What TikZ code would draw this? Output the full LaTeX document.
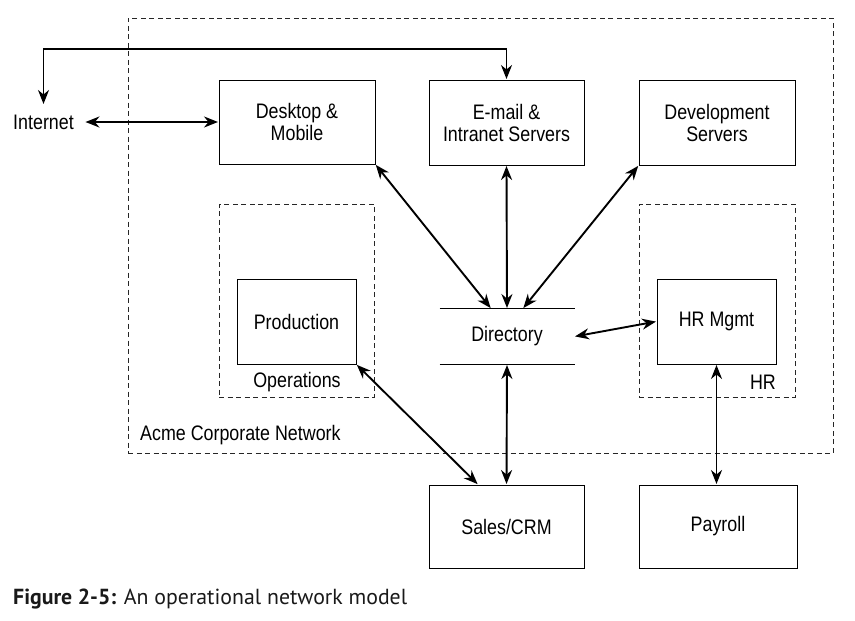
\documentclass[tikz,border=0pt]{standalone}
\usepackage{fontspec}
\setmainfont{Liberation Sans}[FakeStretch=0.85]
\newfontfamily\capfont{PT Sans}
\usetikzlibrary{arrows.meta}
\tikzset{
  box/.style={draw, line width=1pt, align=center, inner sep=0pt,
    font=\fontsize{21}{22}\selectfont},
  grp/.style={draw, dash pattern=on 5pt off 3.5pt, line width=1pt, draw=black!85, inner sep=0pt},
  lbl/.style={font=\fontsize{21}{22}\selectfont, inner sep=0pt},
  arr/.style={{Stealth[length=14pt,width=11pt]}-{Stealth[length=14pt,width=11pt]}, line width=1.9pt, shorten <=0.5pt, shorten >=0.5pt},
}
\begin{document}
\begin{tikzpicture}[x=1pt,y=-1pt]
\useasboundingbox (0,0) rectangle (855,621);
% groups
\node[grp, minimum width=705pt, minimum height=435pt] (net) at (480.5,235.5) {};
\node[grp, minimum width=155pt, minimum height=193pt] (ops) at (296.5,300.5) {};
\node[grp, minimum width=156pt, minimum height=193pt] (hrg) at (717,300.5) {};
\node[lbl, anchor=west] (netl) at (140,435) {Acme Corporate Network};
\node[lbl] (opsl) at (297,382) {Operations};
\node[lbl, anchor=east] (hrl) at (776,382) {HR};
% boxes
\node[box, minimum width=156pt, minimum height=84pt] (desk) at (297,122) {Desktop \&\\Mobile};
\node[box, minimum width=155pt, minimum height=85pt] (mail) at (506.5,122.5) {E-mail \&\\Intranet Servers};
\node[box, minimum width=156pt, minimum height=85pt] (dev) at (717,122.5) {Development\\Servers};
\node[box, minimum width=119pt, minimum height=85pt] (prod) at (296.5,321.5) {Production};
\node[box, minimum width=119pt, minimum height=85pt] (hrm) at (716.5,321.5) {HR Mgmt};
\node[box, minimum width=155pt, minimum height=83pt] (sales) at (506.5,526.5) {Sales/CRM};
\node[box, minimum width=158pt, minimum height=83pt] (pay) at (718,526.5) {Payroll};
\node[box, draw=none, minimum width=134pt, minimum height=55pt] (dir) at (507,336.5) {Directory};
\draw[line width=1pt] (dir.north west) -- (dir.north east);
\draw[line width=1pt] (dir.south west) -- (dir.south east);
\node[lbl, inner xsep=11pt, inner ysep=10pt] (inet) at (43.5,122) {Internet};
\coordinate (topy) at (0,49);
% connectors
\draw[arr] (inet.east) -- (desk.west);
\draw[arr] (inet.north) -- (inet.north |- topy) -| (mail.north);
\draw[arr] (desk.south east) -- ([xshift=-16pt]dir.north);
\draw[arr] (mail.south) -- (dir.north);
\draw[arr] (dev.south west) -- ([xshift=16pt]dir.north);
\draw[arr] (dir.east) -- (hrm.west);
\draw[arr] (prod.south east) -- ([xshift=-28.5pt]sales.north);
\draw[arr] (dir.south) -- (sales.north);
\draw[arr] (hrm.south) -- (hrm.south |- pay.north);
% caption
\node[anchor=base west, inner sep=0pt, font=\capfont\fontsize{21.8}{24}\selectfont, text=black!90] (cap) at (13,604) {\textbf{Figure 2-5:} An operational network model};
\end{tikzpicture}
\end{document}
